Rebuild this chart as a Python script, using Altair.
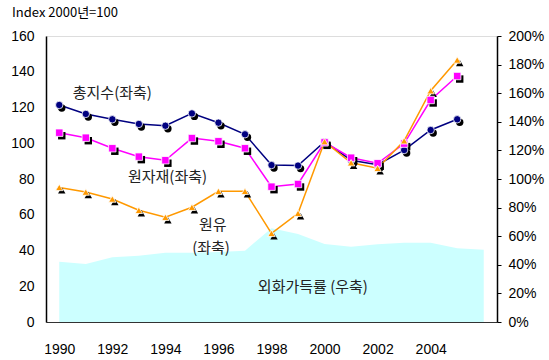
import altair as alt
import pandas as pd

years = list(range(1990, 2006))
total_idx = [121.4, 116.4, 113.4, 110.8, 109.8, 116.7, 111.5, 105.0, 87.8, 87.5, 100.9, 90.5, 88.0, 96.2, 107.4, 113.4]
raw_mat = [105.9, 103.1, 97.2, 92.5, 90.5, 102.9, 101.1, 97.2, 75.7, 77.2, 100.5, 91.9, 88.8, 99.8, 124.2, 137.6]
crude = [75.3, 72.7, 68.8, 62.5, 58.6, 64.2, 73.1, 73.1, 49.6, 60.8, 100.9, 89.1, 86.0, 101.4, 129.4, 146.6]

area_years = list(range(1990, 2007))
fx_rate = [42.2, 40.5, 45.3, 46.4, 48.5, 48.5, 49.0, 49.9, 65.6, 61.5, 54.5, 52.7, 54.3, 55.5, 55.5, 51.5, 50.6]

series_names = ["총지수", "원자재", "원유"]
series_colors = ["#000080", "#FF00FF", "#FF9900"]
series_shapes = ["circle", "square", "triangle-up"]

ann_text = ["총지수(좌축)", "원자재(좌축)", "원유", "(좌축)", "외화가득률 (우축)"]
ann_x = [1992.0, 1994.08, 1995.79, 1995.72, 1999.56]
ann_y = [128.1, 81.1, 54.3, 41.4, 19.6]

x_ticks = [1990, 1992, 1994, 1996, 1998, 2000, 2002, 2004]

rows = []
for name, vals in zip(series_names, [total_idx, raw_mat, crude]):
    for yr, v in zip(years, vals):
        rows.append({"year": yr, "value": v, "series": name})
df = pd.DataFrame(rows)
area_df = pd.DataFrame({"year": area_years, "rate": fx_rate})
ann_df = pd.DataFrame({"label": ann_text, "year": ann_x, "value": ann_y})

NUM_FONT = "Liberation Sans"
KR_FONT = "Noto Sans CJK KR"

xscale = alt.Scale(domain=[1989.5, 2006.5], nice=False, zero=False)
xaxis = alt.Axis(values=x_ticks, format="d", ticks=False, grid=False, labelPadding=20,
                 domainColor="#333", labelFont=NUM_FONT, labelFontSize=14, labelFontWeight="normal",
                 labelColor="#000", title=None)

area = alt.Chart(area_df).mark_area(color="#CCFFFF", opacity=1).encode(
    x=alt.X("year:Q", scale=xscale, axis=xaxis),
    y=alt.Y("rate:Q", scale=alt.Scale(domain=[0, 200], nice=False),
            axis=alt.Axis(orient="right", values=list(range(0, 201, 20)), labelExpr="datum.value + '%'",
                          grid=False, tickSize=4, tickColor="#000", domainColor="#000", domainWidth=1.5,
                          labelPadding=7, labelFont=NUM_FONT, labelFontSize=14, labelFontWeight="normal",
                          labelColor="#000", title=None)),
)

color = alt.Color("series:N", scale=alt.Scale(domain=series_names, range=series_colors), legend=None)
shape = alt.Shape("series:N", scale=alt.Scale(domain=series_names, range=series_shapes), legend=None)
yenc = alt.Y("value:Q", scale=alt.Scale(domain=[0, 160], nice=False),
             axis=alt.Axis(orient="left", values=list(range(0, 161, 20)), grid=False, ticks=False,
                           domainColor="#000", domainWidth=1.5, labelPadding=12,
                           labelFont=NUM_FONT, labelFontSize=14, labelFontWeight="normal",
                           labelColor="#000", title=None))
xenc = alt.X("year:Q", scale=xscale, axis=xaxis)

base = alt.Chart(df)
lines = base.mark_line(strokeWidth=1.5).encode(x=xenc, y=yenc, color=color, detail="series:N")
shadows = base.mark_point(filled=True, color="black", opacity=1, xOffset=2.5, yOffset=3, size=55).encode(
    x=xenc, y=yenc, shape=shape)
points = base.mark_point(filled=True, opacity=1, size=55, stroke="white", strokeWidth=0.8).encode(
    x=xenc, y=yenc, color=color, shape=shape)

texts = alt.Chart(ann_df).mark_text(font=KR_FONT, fontSize=15, color="#222", align="center", baseline="middle").encode(
    x=xenc, y=yenc, text="label:N",
)

left_layer = alt.layer(lines, shadows, points, texts)

chart = alt.layer(area, left_layer).resolve_scale(y="independent").properties(
    width=451, height=286,
    padding={"left": 46, "top": 36, "right": 52, "bottom": 38},
    autosize=alt.AutoSizeParams(type="none"),
    title=alt.TitleParams("Index 2000년=100", anchor="start", frame="group", dx=-34, offset=9,
                          font=KR_FONT, fontSize=13, fontWeight="normal", color="#000"),
).configure_view(stroke="#777", strokeWidth=1).configure(background="white")

chart.save("out.html", embed_options={"renderer": "svg", "actions": False})
